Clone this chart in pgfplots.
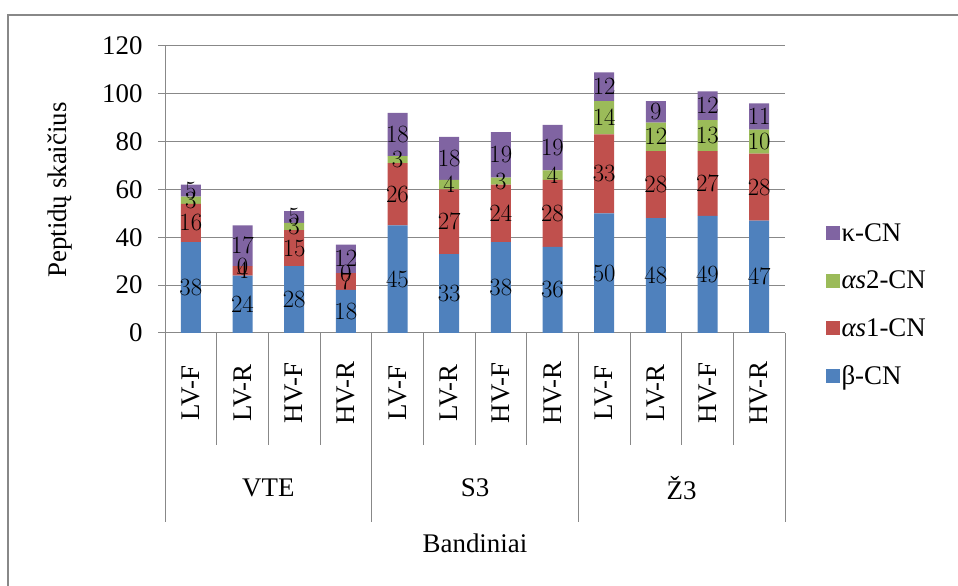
\documentclass[border=0pt]{standalone}
\usepackage{pgfplots}
\pgfplotsset{compat=1.18}
\usepackage{pgfplotstable}
\usepackage{fontspec}
\setmainfont{Liberation Serif}

\definecolor{cbeta}{HTML}{4F81BD}
\definecolor{cas1}{HTML}{C0504D}
\definecolor{cas2}{HTML}{9BBB59}
\definecolor{ckappa}{HTML}{8064A2}
\definecolor{axisgray}{HTML}{888888}

\newcommand\chartfont{\fontsize{27}{30}\selectfont}

% peptide counts per casein fraction, one row per sample
\pgfplotstableread{
x beta as1 as2 kappa
0 38 16 3 5
1 24 4 0 17
2 28 15 3 5
3 18 7 0 12
4 45 26 3 18
5 33 27 4 18
6 38 24 3 19
7 36 28 4 19
8 50 33 14 12
9 48 28 12 9
10 49 27 13 12
11 47 28 10 11
}\peptides

\pgfplotsset{
  chartframe/.style={
    at={(165bp,253bp)}, anchor=south west,
    scale only axis, width=620bp, height=287bp,
    ybar stacked, bar width=20bp,
    xmin=-0.5, xmax=11.5, ymin=0, ymax=120,
    clip=false,
  },
}

\begin{document}
\begin{tikzpicture}[font=\chartfont]
\useasboundingbox (0,0) rectangle (958bp,586bp);
\draw[axisgray, line width=2bp] (8bp,0) -- (8bp,571bp) -- (958bp,571bp);

% bars, axes and legend
\begin{axis}[
  chartframe,
  ytick={0,20,...,120}, xtick=\empty,
  separate axis lines,
  axis x line*=bottom, axis y line*=left,
  axis line style={axisgray, -, line width=1bp},
  ymajorgrids, grid style={axisgray, line width=1bp},
  tick align=outside, major tick length=7bp,
  ytick style={axisgray, line width=1bp},
  tick label style={font=\chartfont},
  /pgf/number format/assume math mode=true,
  yticklabel style={xshift=-12bp},
  legend style={at={(rel axis cs:1.065,0.098)}, anchor=west, draw=none, fill=none,
    font=\chartfont, row sep=24bp, inner sep=0pt},
  legend cell align=left,
  reverse legend,
  legend image code/.code={\fill[#1] (0bp,-7bp) rectangle (14bp,7bp);},
]
\addplot[fill=cbeta, draw=none] table[x=x, y=beta] {\peptides};
\addplot[fill=cas1, draw=none] table[x=x, y=as1] {\peptides};
\addplot[fill=cas2, draw=none] table[x=x, y=as2] {\peptides};
\addplot[fill=ckappa, draw=none] table[x=x, y=kappa] {\peptides};
\legend{β-CN, \textit{αs}1-CN, \textit{αs}2-CN, κ-CN}

% two-level category axis
\pgfplotsinvokeforeach{0.5,1.5,2.5,4.5,5.5,6.5,8.5,9.5,10.5}{
  \draw[axisgray, line width=1bp] (axis cs:#1,0) -- (axis cs:#1,-46.8);
}
\pgfplotsinvokeforeach{-0.5,3.5,7.5,11.5}{
  \draw[axisgray, line width=1bp] (axis cs:#1,0) -- (axis cs:#1,-79);
}
\node[rotate=90] at (axis cs:0,-25.1) {LV-F};
\node[rotate=90] at (axis cs:1,-25.1) {LV-R};
\node[rotate=90] at (axis cs:2,-25.1) {HV-F};
\node[rotate=90] at (axis cs:3,-25.1) {HV-R};
\node[rotate=90] at (axis cs:4,-25.1) {LV-F};
\node[rotate=90] at (axis cs:5,-25.1) {LV-R};
\node[rotate=90] at (axis cs:6,-25.1) {HV-F};
\node[rotate=90] at (axis cs:7,-25.1) {HV-R};
\node[rotate=90] at (axis cs:8,-25.1) {LV-F};
\node[rotate=90] at (axis cs:9,-25.1) {LV-R};
\node[rotate=90] at (axis cs:10,-25.1) {HV-F};
\node[rotate=90] at (axis cs:11,-25.1) {HV-R};
\node at (axis cs:1.5,-64.8) {VTE};
\node at (axis cs:5.5,-64.8) {S3};
\node at (axis cs:9.5,-64.8) {Ž3};
\end{axis}

% segment value labels, stacked from the same values and drawn above all bars;
% stacked bars put these nodes in the middle of each segment, zeros included
\begin{axis}[
  chartframe,
  hide axis,
  stacked ignores zero=false,
  point meta=rawy,
  nodes near coords,
  every node near coord/.append style={anchor=center, font=\chartfont, text=black},
]
\addplot[fill=none, draw=none] table[x=x, y=beta] {\peptides};
\addplot[fill=none, draw=none] table[x=x, y=as1] {\peptides};
\addplot[fill=none, draw=none] table[x=x, y=as2] {\peptides};
\addplot[fill=none, draw=none] table[x=x, y=kappa] {\peptides};
\end{axis}

\node[rotate=90] at (60bp,396bp) {Peptidų skaičius};
\node at (475bp,43bp) {Bandiniai};
\end{tikzpicture}
\end{document}
